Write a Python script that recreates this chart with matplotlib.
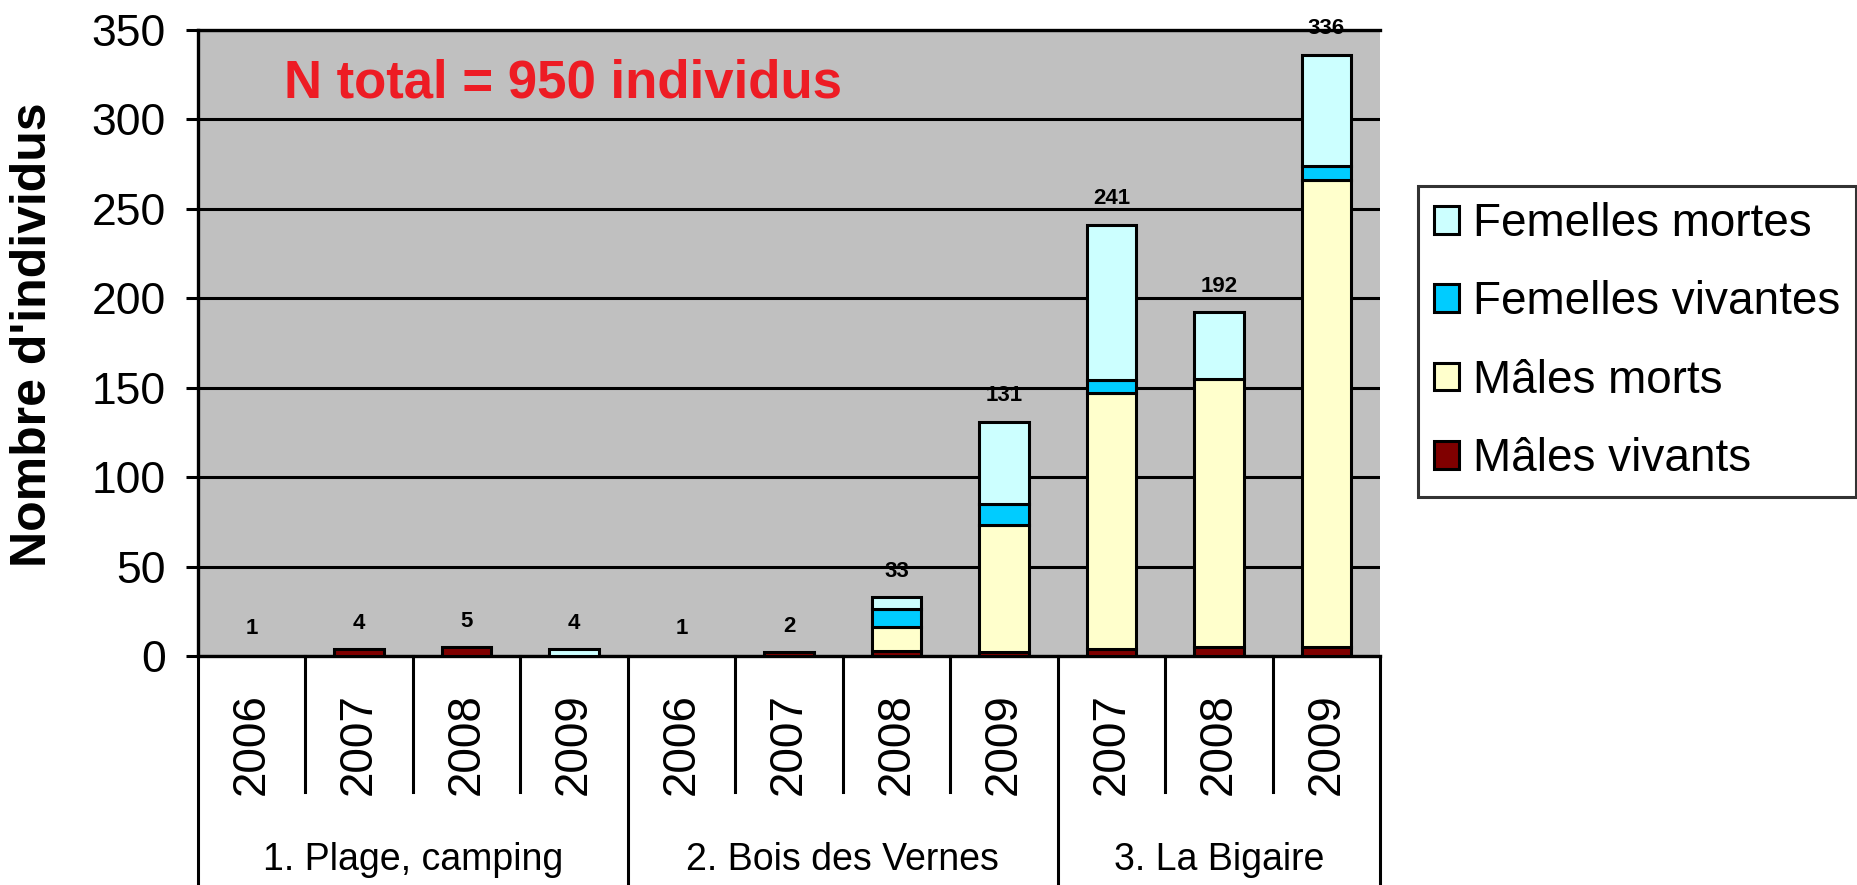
import matplotlib
matplotlib.use("Agg")
import matplotlib.pyplot as plt
from matplotlib import font_manager
from matplotlib.patches import Patch
import numpy as np

# ---------------- data ----------------
years = ["2006", "2007", "2008", "2009", "2006", "2007", "2008", "2009", "2007", "2008", "2009"]
groups = ["1. Plage, camping", "2. Bois des Vernes", "3. La Bigaire"]
group_sizes = [4, 4, 3]
totals = [1, 4, 5, 4, 1, 2, 33, 131, 241, 192, 336]
males_vivants = [0, 4, 5, 0, 0, 2, 3, 2, 4, 5, 5]
males_morts = [0, 0, 0, 0, 0, 0, 13, 71, 143, 150, 261]
femelles_vivantes = [0, 0, 0, 0, 0, 0, 10, 12, 7, 0, 8]
femelles_mortes = [0, 0, 0, 4, 0, 0, 7, 46, 87, 37, 62]
series_names = ["Mâles vivants", "Mâles morts", "Femelles vivantes", "Femelles mortes"]
series_colors = ["#800000", "#FFFFCC", "#00CCFF", "#CCFFFF"]
yticks = [0, 50, 100, 150, 200, 250, 300, 350]
note = "N total = 950 individus"
ylabel = "Nombre d'individus"

# ---------------- fonts ----------------
avail = {f.name for f in font_manager.fontManager.ttflist}
REG = "Liberation Sans" if "Liberation Sans" in avail else "DejaVu Sans"
NARROW = "Liberation Sans Narrow" if "Liberation Sans Narrow" in avail else REG
plt.rcParams["font.family"] = [REG, "DejaVu Sans"]

W, H = 1858, 885
fig = plt.figure(figsize=(W / 100, H / 100), dpi=100)
fig.patch.set_facecolor("white")

ax_l, ax_r, ax_t, ax_b = 198, 1380, 29.6, 656
ax = fig.add_axes([ax_l / W, 1 - ax_b / H, (ax_r - ax_l) / W, (ax_b - ax_t) / H])
ax.set_facecolor("#C0C0C0")

x = np.arange(len(years))
series = [males_vivants, males_morts, femelles_vivantes, femelles_mortes]
bottom = np.zeros(len(years))
for vals, name, col in zip(series, series_names, series_colors):
    vals = np.array(vals, dtype=float)
    bars = ax.bar(x, vals, width=0.46, bottom=bottom, color=col,
                  edgecolor="black", linewidth=2.2, label=name, zorder=3)
    for b, v in zip(bars, vals):
        if v == 0:
            b.set_visible(False)
    bottom += vals

for xi, t in zip(x, totals):
    ax.annotate(str(t), xy=(xi, t), xytext=(0, 11), textcoords="offset points",
                ha="center", va="bottom", fontsize=16, fontweight="bold",
                color="black", zorder=5)

ax.set_xlim(-0.5, len(years) - 0.5)
ax.set_ylim(0, 350)
ax.set_yticks(yticks)
ax.set_yticklabels([str(v) for v in yticks], fontsize=32)
ax.tick_params(axis="y", direction="out", length=9, width=2.2, pad=14)
ax.set_xticks([])
ax.yaxis.grid(True, color="black", linewidth=2.2, zorder=1)
ax.set_axisbelow(True)
for s in ["left", "bottom", "top"]:
    ax.spines[s].set_color("black")
    ax.spines[s].set_linewidth(2.4)
ax.spines["right"].set_visible(False)

# category table below axis
trans = ax.get_xaxis_transform()
ax_h = ax_b - ax_t
y_sep = (ax_b - 792) / ax_h
y_end = -0.5
bounds = np.cumsum([0] + group_sizes) - 0.5
for i in range(len(years) + 1):
    xe = i - 0.5
    if xe in bounds:
        ax.plot([xe, xe], [0, y_end], transform=trans, color="black", lw=2.2, clip_on=False)
    else:
        ax.plot([xe, xe], [0, y_sep], transform=trans, color="black", lw=2.2, clip_on=False)

y_year = (ax_b - 744) / ax_h
for xi, yr in zip(x, years):
    ax.text(xi, y_year, yr, transform=trans, rotation=90, ha="center", va="center",
            fontsize=33, family=[NARROW, "DejaVu Sans"])

y_grp = (ax_b - 870) / ax_h
for gi, g in enumerate(groups):
    cx = (bounds[gi] + bounds[gi + 1]) / 2
    ax.text(cx, y_grp, g, transform=trans, ha="center", va="baseline",
            fontsize=27, family=[NARROW, "DejaVu Sans"])

# annotation
fig.text(284 / W, 1 - 97 / H, note, color="#ED1C24", fontsize=38, fontweight="bold",
         ha="left", va="baseline")

# y label
fig.text(33 / W, 1 - 335 / H, ylabel, rotation=90, ha="center", va="center",
         fontsize=36, fontweight="bold", family=[NARROW, "DejaVu Sans"])

# legend
handles = [Patch(facecolor=c, edgecolor="black", linewidth=2.2) for c in series_colors][::-1]
labels = series_names[::-1]
leg = fig.legend(handles, labels, loc="upper left",
                 bbox_to_anchor=(1418 / W, 1 - 186 / H), borderaxespad=0,
                 fontsize=33, frameon=True, fancybox=False, edgecolor="black",
                 handlelength=0.55, handleheight=0.55, handletextpad=0.3,
                 labelspacing=0.75, borderpad=0.35)
leg.get_frame().set_linewidth(2.2)

fig.savefig("out.png", dpi=100, facecolor="white")
